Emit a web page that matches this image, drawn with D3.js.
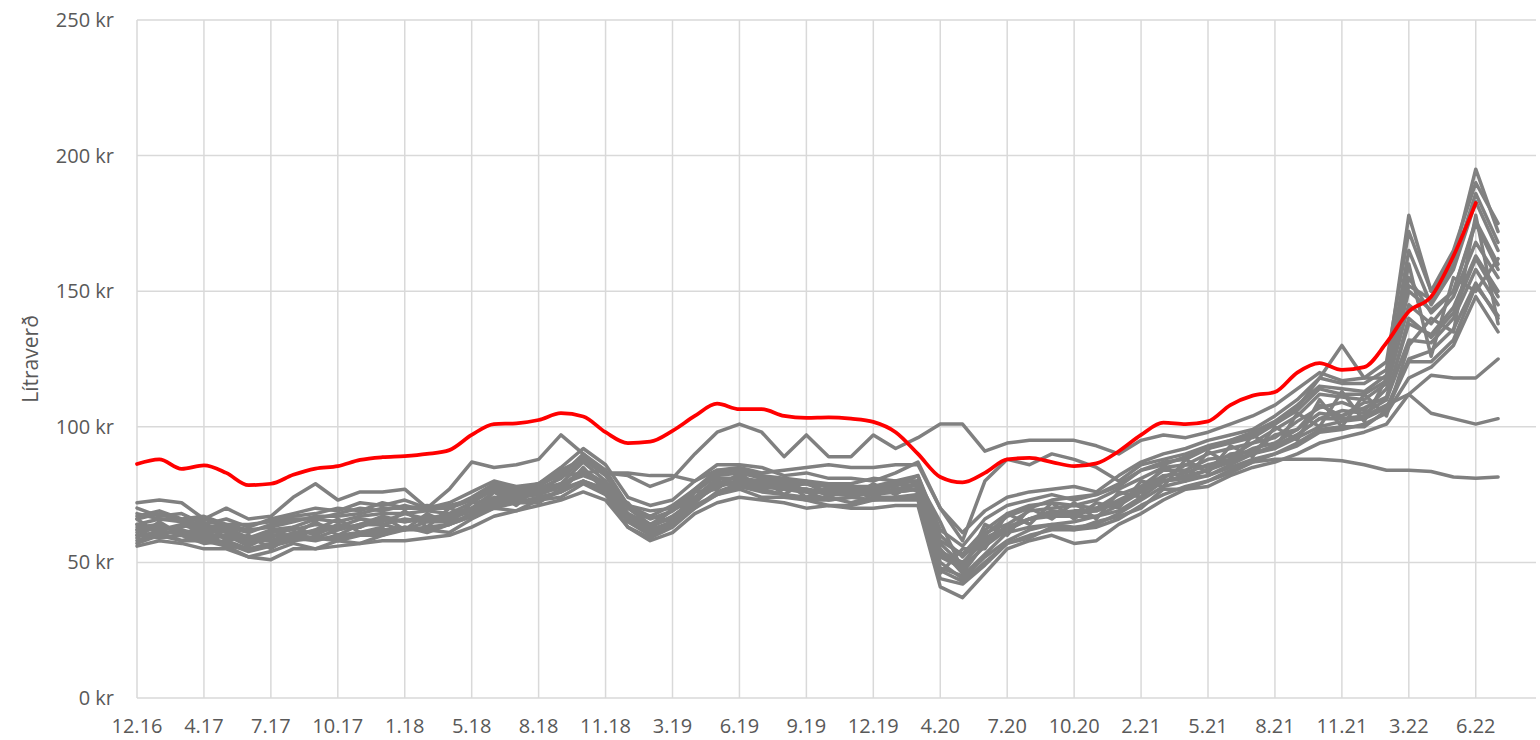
<!DOCTYPE html>
<html>
<head>
<meta charset="utf-8">
<script src="https://cdn.jsdelivr.net/npm/d3@7"></script>
<style>
  body { margin: 0; background: #fff; }
  text { font-family: "Open Sans", "Liberation Sans", sans-serif; fill: #595959; }
</style>
</head>
<body>
<svg id="chart" width="1540" height="740"></svg>
<script>
// x axis labels, one every 3 data points
var tickLabels = ['12.16','4.17','7.17','10.17','1.18','5.18','8.18','11.18','3.19','6.19','9.19',
                  '12.19','4.20','7.20','10.20','2.21','5.21','8.21','11.21','3.22','6.22'];
var pointsPerTick = 3;
var yTicks = [0, 50, 100, 150, 200, 250];

// red (highlighted) price
var redSeries = [86.3,88,84.5,85.8,83,78.5,79,82.3,84.6,85.5, 87.8,88.8,89.2,90,91.4,97,101,101.3,102.5,105,
  103.8,98,94,94.5,98.5,104,108.5,106.5,106.5,104, 103.3,103.5,103,101.8,98,90,81.5,79.5,83,88,
  88.5,87,85.5,86.5,91,97,101.5,101,102,108, 111.5,112.8,120,123.5,121,122,131,142.5,148,163,
  182.5,null];

// grey comparison prices
var grey01 = [70,67,68,64,66,63,66,68,70,69, 72,71,73,70,72,76,80,78,79,85, 92,86,74,71,73,80,86,86,85,82, 83,81,81,80,83,87,70,61,69,74, 76,77,78,76,82,87,90,92,95,97, 99,104,110,118,116,116,121,178,150,162, 195,172];
var grey02 = [66,68,65,66,63,61,64,66,66,68, 70,69,71,69,71,73,78,76,79,82, 90,84,71,69,70,77,84,84,82,81, 80,79,79,81,80,82,62,56,66,71, 73,75,73,75,79,84,86,89,92,94, 96,101,107,118,130,118,118,165,145,158, 183,165];
var grey03 = [64,66,65,62,63,59,62,63,66,65, 67,68,68,69,68,72,77,75,77,81, 88,82,70,66,69,76,82,83,81,79, 79,78,77,78,79,80,58,53,62,68, 71,72,71,73,77,81,85,86,90,92, 94,99,104,112,111,110,116,155,142,150, 176,160];
var grey04 = [64,62,64,61,62,58,61,62,64,63, 66,65,68,66,68,70,76,74,77,79, 87,80,70,64,69,74,81,81,80,78, 79,76,77,76,79,78,57,49,61,64, 69,70,71,70,75,78,84,84,88,89, 94,96,102,107,109,106,114,145,138,148, 168,155];
var grey05 = [63,64,61,61,59,58,58,61,61,63, 63,66,65,66,66,69,74,73,76,78, 84,79,68,63,67,73,79,80,79,77, 77,75,75,75,77,77,54,50,58,63, 66,69,68,70,72,77,82,83,86,88, 92,94,99,105,104,107,111,138,134,144, 163,150];
var grey06 = [62,63,62,58,60,56,60,60,59,62, 64,64,62,65,65,67,72,74,75,78, 83,78,67,62,65,72,79,79,78,77, 76,73,74,76,76,77,52,48,56,62, 66,67,67,67,71,76,80,81,84,88, 90,93,97,103,106,105,110,132,131,140, 158,145];
var grey07 = [60,61,61,59,56,55,57,60,59,58, 60,60,63,62,64,68,72,72,72,77, 80,77,65,61,64,70,76,79,77,75, 73,73,74,73,74,75,48,45,53,61, 63,64,65,67,69,74,80,81,82,86, 90,92,96,100,102,103,107,125,128,136, 153,140];
var grey08 = [58,61,58,58,56,52,54,57,55,58, 57,60,62,62,61,66,70,69,73,74, 79,75,63,59,63,70,75,77,74,74, 73,71,71,73,73,73,44,42,49,57, 59,63,62,65,67,70,77,77,80,83, 87,90,93,98,99,101,105,118,122,130, 148,135];
var grey09 = [56,58,57,55,55,52,51,55,55,56, 57,58,58,59,60,63,67,69,71,73, 76,73,63,58,61,68,72,74,73,72, 70,71,70,70,71,71,41,37,46,55, 58,60,57,58,64,68,73,77,78,82, 85,87,90,94,96,98,101,112,119,118, 118,125];
var grey10 = [66,60,63,65,58,60,55,60,65,60, 64,67,62,68,64,72,73,77,75,82, 83,84,66,67,65,76,77,83,77,80, 74,78,74,79,75,80,65,47,64,60, 70,66,72,66,76,74,86,80,91,86, 97,92,105,100,113,102,118,160,126,155, 150,162];
var grey11 = [59,65,60,58,62,56,62,59,62,66, 61,63,69,63,70,67,76,71,78,76, 85,76,72,62,70,72,80,78,81,75, 80,74,78,73,80,76,46,55,55,68, 64,72,66,72,70,80,78,88,83,93, 89,100,95,110,100,112,104,130,140,135, 178,138];
var grey12 = [57,60,58,60,57,54,56,59,58,60, 61,61,63,61,64,67,70,72,73,76, 80,77,66,61,64,73,78,80,79,77, 76,77,76,77,78,82,60,52,60,67, 70,73,74,75,78,84,87,88,92,95, 98,102,108,115,114,113,119,152,147,160, 186,168];
var grey13 = [68,66,66,63,64,62,63,65,67,67, 68,70,70,70,70,73,77,76,78,83, 89,83,71,67,71,77,83,84,82,80, 79,79,78,78,80,80,50,44,52,58, 62,64,63,64,68,73,78,80,82,85, 88,90,94,99,100,100,106,124,124,132, 152,141];
var grey14 = [62,62,60,64,61,57,59,63,60,64, 63,67,65,67,66,70,73,75,76,79, 82,79,68,64,66,74,79,82,78,78, 77,76,76,76,77,79,55,46,57,62, 66,68,69,69,73,77,81,86,85,90, 91,97,99,108,104,109,110,140,133,142, 162,148];
var grey15 = [72,73,72,66,70,66,67,74,79,73, 76,76,77,70,77,87,85,86,88,97, 90,83,82,78,81,90,98,101,98,89, 97,89,89,97,92,96,101,101,91,94, 95,95,95,93,90,95,97,96,98,101, 104,108,114,120,117,118,124,172,150,165, 190,175];
var grey16 = [67,69,66,67,64,64,65,67,68,70, 69,72,70,71,70,74,79,77,79,84, 88,83,83,82,82,80,84,85,83,84, 85,86,85,85,86,86,70,58,80,88, 86,90,88,85,80,86,88,90,93,95, 97,101,106,114,112,112,117,150,143,150, 175,158];
var grey17 = [60,59,60,57,58,55,56,58,59,59, 61,62,62,63,64,67,71,72,74,76, 80,76,65,60,64,71,75,78,76,75, 74,74,72,74,74,74,47,43,50,57, 60,62,62,63,66,71,75,78,80,84, 87,88,88,88,87.5,86,84,84,83.5,81.5, 81,81.5];
var grey18 = [61,63,62,60,60,57,60,60,62,62, 64,64,66,65,67,69,73,74,75,78, 84,79,67,63,67,73,78,80,78,77, 77,75,75,75,76,77,53,49,59,63, 66,68,68,69,72,76,80,82,84,87, 90,93,97,103,103,104,108,112,105,103, 101,103];

var greySeries = [grey01, grey02, grey03, grey04, grey05, grey06, grey07, grey08, grey09,
                  grey10, grey11, grey12, grey13, grey14, grey15, grey16, grey17, grey18];

var svg = d3.select('#chart');
var plotLeft = 137, plotRight = 1536, plotTop = 20, plotBottom = 698;

// one tick spacing = 3 points, axis runs a bit past the last label
var x = d3.scaleLinear().domain([0, 20.9 * pointsPerTick]).range([plotLeft, plotRight]);
var y = d3.scaleLinear().domain([0, 250]).range([plotBottom, plotTop]);

// horizontal gridlines
svg.append('g')
  .selectAll('line')
  .data(yTicks)
  .enter().append('line')
    .attr('x1', plotLeft).attr('x2', plotRight)
    .attr('y1', function(d) { return y(d); })
    .attr('y2', function(d) { return y(d); })
    .attr('stroke', '#d9d9d9')
    .attr('stroke-width', 1.5);

// vertical gridlines at each label
svg.append('g')
  .selectAll('line')
  .data(tickLabels)
  .enter().append('line')
    .attr('x1', function(d, i) { return x(i * pointsPerTick); })
    .attr('x2', function(d, i) { return x(i * pointsPerTick); })
    .attr('y1', plotTop).attr('y2', plotBottom)
    .attr('stroke', '#d9d9d9')
    .attr('stroke-width', 1.5);

// y labels
svg.append('g')
  .selectAll('text')
  .data(yTicks)
  .enter().append('text')
    .attr('x', 114)
    .attr('y', function(d) { return y(d); })
    .attr('dy', '0.35em')
    .attr('text-anchor', 'end')
    .style('font-size', '20px')
    .text(function(d) { return d + ' kr'; });

// x labels
svg.append('g')
  .selectAll('text')
  .data(tickLabels)
  .enter().append('text')
    .attr('x', function(d, i) { return x(i * pointsPerTick); })
    .attr('y', 733)
    .attr('text-anchor', 'middle')
    .style('font-size', '20px')
    .text(function(d) { return d; });

// y title
svg.append('text')
  .attr('transform', 'translate(38,' + ((plotTop + plotBottom) / 2) + ') rotate(-90)')
  .attr('text-anchor', 'middle')
  .style('font-size', '21px')
  .text('Lítraverð');

var greyLine = d3.line()
  .defined(function(d) { return d != null; })
  .x(function(d, i) { return x(i); })
  .y(function(d) { return y(d); });

var redLine = d3.line()
  .defined(function(d) { return d != null; })
  .x(function(d, i) { return x(i); })
  .y(function(d) { return y(d); })
  .curve(d3.curveMonotoneX);

svg.append('g')
  .selectAll('path')
  .data(greySeries)
  .enter().append('path')
    .attr('d', greyLine)
    .attr('fill', 'none')
    .attr('stroke', '#808080')
    .attr('stroke-width', 3.5)
    .attr('stroke-linejoin', 'round')
    .attr('stroke-linecap', 'round');

svg.append('path')
  .datum(redSeries)
  .attr('d', redLine)
  .attr('fill', 'none')
  .attr('stroke', '#ff0000')
  .attr('stroke-width', 3.75)
  .attr('stroke-linecap', 'round');
</script>
</body>
</html>
